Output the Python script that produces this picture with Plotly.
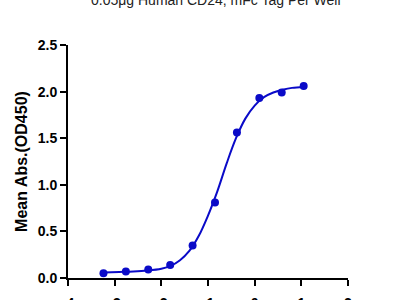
import plotly.graph_objects as go

# measured points (log10 concentration vs OD450)
x_pts = [-3.24, -2.76, -2.28, -1.81, -1.33, -0.85, -0.38, 0.10, 0.58, 1.05]
y_pts = [0.05, 0.07, 0.09, 0.14, 0.35, 0.81, 1.56, 1.93, 1.99, 2.06]

# fitted curve
x_fit = [-3.24, -2.9, -2.6, -2.3, -2.0, -1.8, -1.6, -1.4, -1.2, -1.0, -0.8,
         -0.6, -0.4, -0.2, 0.0, 0.2, 0.4, 0.6, 0.8, 1.05]
y_fit = [0.06, 0.065, 0.07, 0.08, 0.10, 0.13, 0.19, 0.29, 0.45, 0.67, 0.93,
         1.23, 1.50, 1.71, 1.85, 1.94, 1.99, 2.02, 2.04, 2.05]

x_ticks = [-4, -3, -2, -1, 0, 1, 2]
y_ticks = [0.0, 0.5, 1.0, 1.5, 2.0, 2.5]
y_tick_text = ["0.0", "0.5", "1.0", "1.5", "2.0", "2.5"]

title_text = "0.05μg Human CD24, mFc Tag Per Well"
y_title = "Mean Abs.(OD450)"

blue = "#0a0ac8"
font_family = "Liberation Sans, Arial, sans-serif"

fig = go.Figure()
fig.add_trace(go.Scatter(x=x_fit, y=y_fit, mode="lines",
                         line=dict(color=blue, width=2, shape="spline"),
                         hoverinfo="skip", showlegend=False))
fig.add_trace(go.Scatter(x=x_pts, y=y_pts, mode="markers",
                         marker=dict(color=blue, size=8),
                         showlegend=False))

fig.update_layout(
    width=400, height=300,
    margin=dict(l=68, r=52, t=45, b=22),
    plot_bgcolor="white", paper_bgcolor="white",
    font=dict(family=font_family, color="black"),
    xaxis=dict(range=[-4, 2], tickvals=x_ticks, automargin=False,
               ticktext=["<b>%d</b>" % v for v in x_ticks],
               showgrid=False, zeroline=False, showline=True, linecolor="black",
               linewidth=2, ticks="outside", ticklen=6, tickwidth=2, tickcolor="black",
               tickfont=dict(size=14, family=font_family, color="black"),
               ticklabelstandoff=5),
    yaxis=dict(range=[0, 2.5], tickvals=y_ticks, automargin=False,
               ticktext=["<b>%s</b>" % t for t in y_tick_text],
               showgrid=False, zeroline=False, showline=True, linecolor="black",
               linewidth=2, ticks="outside", ticklen=6, tickwidth=2, tickcolor="black",
               tickfont=dict(size=14, family=font_family, color="black"),
               title=dict(text="<b>%s</b>" % y_title, font=dict(size=16, family=font_family),
                          standoff=6)),
    annotations=[dict(text=title_text, xref="paper", yref="paper", x=0.53, y=1,
                      yshift=45, yanchor="middle", showarrow=False,
                      font=dict(size=14, family=font_family, color="#222"))],
)

fig.write_html("out.html")
